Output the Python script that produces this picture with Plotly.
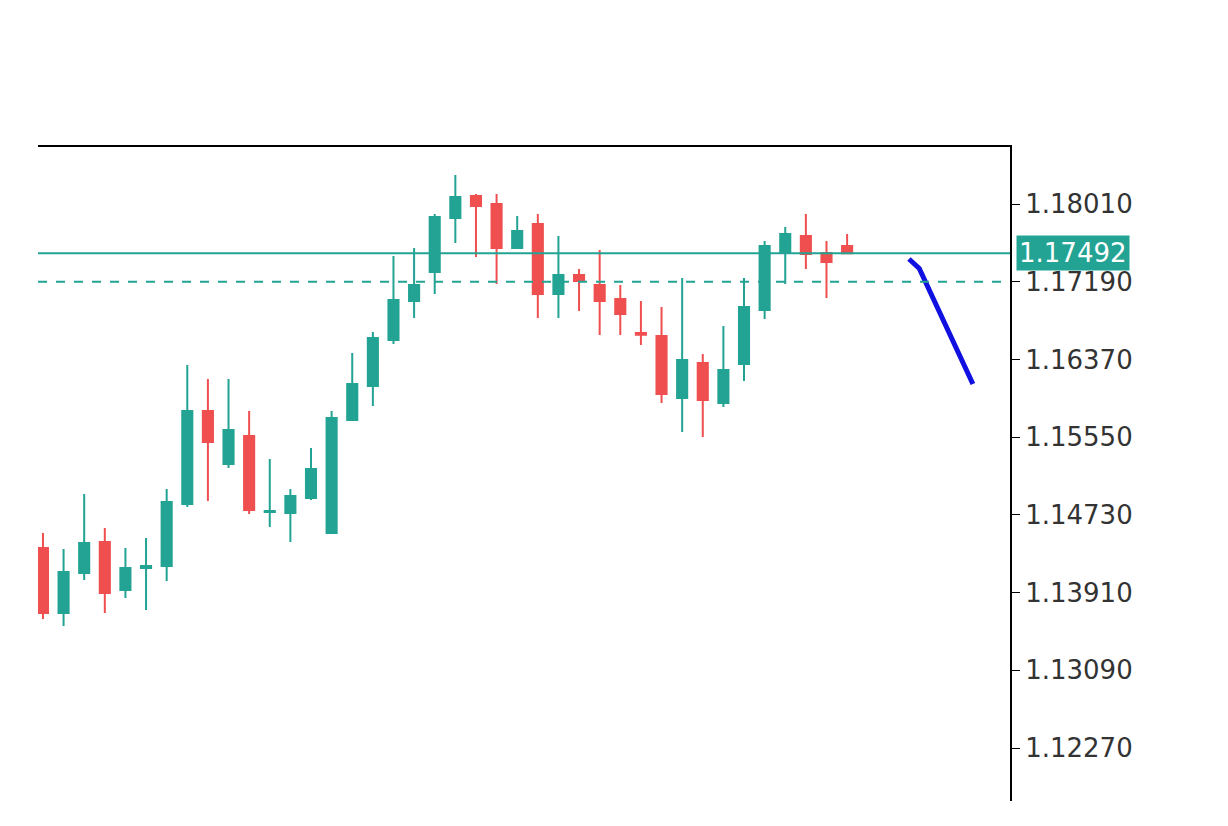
import plotly.graph_objects as go

# daily candles
opens = [1.14381, 1.13695, 1.14117, 1.14444, 1.13937, 1.14170, 1.14191, 1.14845, 1.15826, 1.15267,
         1.15562, 1.14760, 1.14750, 1.14908, 1.14539, 1.15731, 1.16090, 1.16575, 1.16987, 1.17293,
         1.17862, 1.18095, 1.18010, 1.17546, 1.17799, 1.17061, 1.17261, 1.17156, 1.17008, 1.16650,
         1.16617, 1.15963, 1.16333, 1.15910, 1.16322, 1.16892, 1.17504, 1.17673, 1.17493, 1.17567]
highs = [1.14539, 1.14370, 1.14950, 1.14592, 1.14381, 1.14486, 1.15003, 1.16311, 1.16164, 1.16164,
         1.15826, 1.15320, 1.15003, 1.15436, 1.15826, 1.16438, 1.16660, 1.17461, 1.17546, 1.17905,
         1.18316, 1.18116, 1.18116, 1.17884, 1.17905, 1.17673, 1.17324, 1.17525, 1.17156, 1.16987,
         1.16923, 1.17229, 1.16427, 1.16723, 1.17229, 1.17620, 1.17767, 1.17905, 1.17620, 1.17693]
lows = [1.13631, 1.13558, 1.14043, 1.13695, 1.13853, 1.13726, 1.14032, 1.14813, 1.14876, 1.15225,
        1.14739, 1.14602, 1.14444, 1.14887, 1.14528, 1.15731, 1.15879, 1.16533, 1.16807, 1.17061,
        1.17599, 1.17451, 1.17166, 1.17535, 1.16807, 1.16807, 1.16881, 1.16628, 1.16628, 1.16522,
        1.15910, 1.15605, 1.15552, 1.15868, 1.16143, 1.16797, 1.17166, 1.17324, 1.17018, 1.17483]
closes = [1.13695, 1.14127, 1.14433, 1.13906, 1.14170, 1.14191, 1.14866, 1.15826, 1.15499, 1.15626,
          1.14782, 1.14770, 1.14929, 1.15214, 1.15752, 1.16111, 1.16596, 1.16997, 1.17156, 1.17873,
          1.18084, 1.17989, 1.17546, 1.17725, 1.17061, 1.17261, 1.17198, 1.16987, 1.16850, 1.16630,
          1.16005, 1.16364, 1.15942, 1.16259, 1.16923, 1.17567, 1.17694, 1.17483, 1.17398, 1.17492]

last_price = 1.17492
dashed_level = 1.17190
tick_vals = [1.18010, 1.17190, 1.16370, 1.15550, 1.14730, 1.13910, 1.13090, 1.12270]

# hand-drawn blue stroke
arrow_x = [42.0, 42.5, 45.1]
arrow_y = [1.17430, 1.17330, 1.16111]

GREEN = '#22a393'
RED = '#ef4f4f'

fig = go.Figure()

fig.add_trace(go.Candlestick(
    x=list(range(len(opens))),
    open=opens, high=highs, low=lows, close=closes,
    increasing=dict(line=dict(color=GREEN, width=2), fillcolor=GREEN),
    decreasing=dict(line=dict(color=RED, width=2), fillcolor=RED),
    whiskerwidth=0,
    showlegend=False,
))

fig.add_trace(go.Scatter(
    x=arrow_x, y=arrow_y, mode='lines',
    line=dict(color='#1010e0', width=5),
    showlegend=False, hoverinfo='skip',
))

# price lines
fig.add_shape(type='line', xref='paper', x0=0, x1=1, yref='y', y0=last_price, y1=last_price,
              line=dict(color=GREEN, width=2))
fig.add_shape(type='line', xref='paper', x0=0, x1=1, yref='y', y0=dashed_level, y1=dashed_level,
              line=dict(color=GREEN, width=2, dash='dash'))

fig.add_annotation(
    x=1, xref='paper', xanchor='left', xshift=6, y=last_price, yref='y',
    text=f'{last_price:.5f}', showarrow=False,
    bgcolor=GREEN, font=dict(color='white', size=26, family='DejaVu Sans'),
    borderpad=2,
)

fig.update_layout(
    width=1228, height=826,
    margin=dict(l=30, r=226, t=139, b=33),
    paper_bgcolor='white', plot_bgcolor='white',
    font=dict(family='DejaVu Sans', size=26, color='#333333'),
    xaxis=dict(
        range=[-0.24, 46.9], rangeslider=dict(visible=False),
        showgrid=False, zeroline=False, showticklabels=False,
        showline=True, linecolor='black', linewidth=2, side='top',
    ),
    yaxis=dict(
        range=[1.11711, 1.18612], side='right',
        tickvals=tick_vals, ticktext=[f'{v:.5f}' for v in tick_vals],
        showgrid=False, zeroline=False,
        showline=True, linecolor='black', linewidth=2,
        ticks='outside', ticklen=8, tickcolor='black',
    ),
)

fig.write_html("out.html")
